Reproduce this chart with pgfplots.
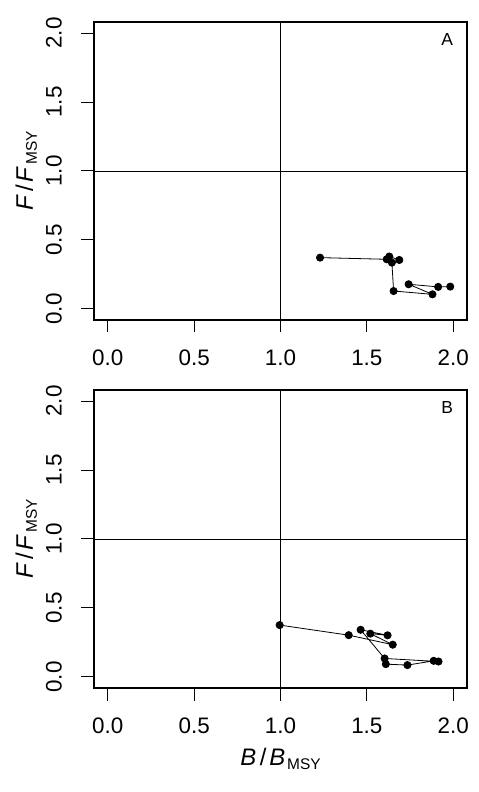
\documentclass[border=0pt]{standalone}
\usepackage{fontspec}
\setmainfont{Liberation Sans}
\usepackage{pgfplots}
\pgfplotsset{compat=1.18}

\newcommand{\ratio}[1]{\textit{#1}\kern0.15em/\kern0.12em\textit{#1}\kern0.08em\raisebox{-4bp}{\fontsize{15.5}{15.5}\selectfont MSY}}

\pgfplotsset{panel/.style={
  scale only axis, width=373bp, height=298bp,
  xmin=-0.08, xmax=2.08, ymin=-0.08, ymax=2.08,
  xtick={0,0.5,1,1.5,2}, ytick={0,0.5,1,1.5,2},
  xticklabels={0.0,0.5,1.0,1.5,2.0},
  yticklabels={0.0,0.5,1.0,1.5,2.0},
  tick align=outside, xtick pos=left, ytick pos=left,
  major tick length=12.5bp,
  tick style={line width=1bp, black},
  axis line style={line width=1.2bp, black},
  tick label style={font=\fontsize{22.5}{22.5}\selectfont},
  xticklabel style={anchor=center, inner sep=0pt, yshift=-25.5bp},
  yticklabel style={xshift=-27.5bp, rotate=90, anchor=center, inner sep=0pt},
  ylabel={\ratio{F}},
  ylabel style={at={([xshift=-61bp]axis description cs:0,0.5)}, anchor=base, rotate=0, font=\fontsize{24}{24}\selectfont, inner sep=0pt},
  xlabel style={at={([yshift=-77bp]axis description cs:0.5,0)}, anchor=base, font=\fontsize{24}{24}\selectfont, inner sep=0pt},
  clip=false,
}}

\begin{document}
\begin{tikzpicture}
\useasboundingbox (0,0) rectangle (479bp,792bp);
\begin{axis}[panel, at={(94bp,472bp)}, anchor=south west]
  \addplot[black, line width=0.8bp] coordinates {(1,-0.08) (1,2.08)};
  \addplot[black, line width=0.8bp] coordinates {(-0.08,1) (2.08,1)};
  \addplot[black, line width=0.8bp, mark=*, mark size=3.6bp, mark options={solid, fill=black}]
    coordinates {(1.229,0.372) (1.615,0.360) (1.630,0.380) (1.688,0.355) (1.645,0.336)
                 (1.655,0.130) (1.880,0.106) (1.742,0.179) (1.913,0.160) (1.983,0.162)};
  \node[font=\fontsize{17.5}{17.5}\selectfont] at (axis cs:1.965,1.95) {A};
\end{axis}
\begin{axis}[panel, at={(94bp,104bp)}, anchor=south west, xlabel={\ratio{B}}]
  \addplot[black, line width=0.8bp] coordinates {(1,-0.08) (1,2.08)};
  \addplot[black, line width=0.8bp] coordinates {(-0.08,1) (2.08,1)};
  \addplot[black, line width=0.8bp, mark=*, mark size=3.6bp, mark options={solid, fill=black}]
    coordinates {(0.995,0.376) (1.395,0.303) (1.650,0.234) (1.520,0.314) (1.620,0.302)
                 (1.464,0.342) (1.603,0.134) (1.915,0.112) (1.887,0.117) (1.735,0.086) (1.610,0.093)};
  \node[font=\fontsize{17.5}{17.5}\selectfont] at (axis cs:1.965,1.95) {B};
\end{axis}
\end{tikzpicture}
\end{document}
